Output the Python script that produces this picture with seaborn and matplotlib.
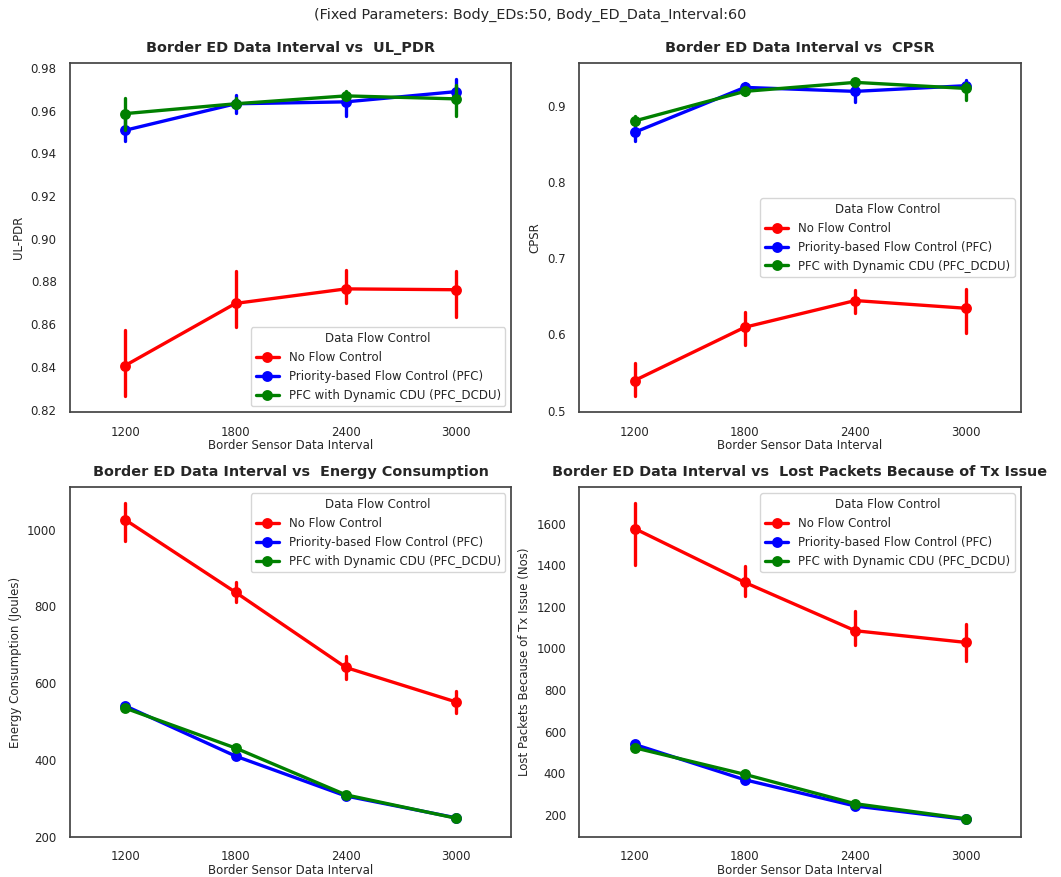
import numpy as np
import pandas as pd
import matplotlib
matplotlib.use("Agg")
import matplotlib.pyplot as plt
import seaborn as sns

# x categories and series
intervals = [1200, 1800, 2400, 3000]
methods = ["No Flow Control", "Priority-based Flow Control (PFC)", "PFC with Dynamic CDU (PFC_DCDU)"]
colors = {"No Flow Control": "red",
          "Priority-based Flow Control (PFC)": "blue",
          "PFC with Dynamic CDU (PFC_DCDU)": "green"}

# UL_PDR: mean, lower and upper end of error bar
pdr_nfc = [0.8406, 0.8697, 0.8765, 0.8761]
pdr_nfc_lo = [0.8261, 0.8588, 0.8698, 0.8635]
pdr_nfc_hi = [0.8574, 0.8850, 0.8854, 0.8850]
pdr_pfc = [0.9508, 0.9632, 0.9641, 0.9689]
pdr_pfc_lo = [0.9457, 0.9590, 0.9577, 0.9630]
pdr_pfc_hi = [0.9560, 0.9675, 0.9670, 0.9748]
pdr_dcdu = [0.9586, 0.9632, 0.9669, 0.9655]
pdr_dcdu_lo = [0.9511, 0.9610, 0.9650, 0.9574]
pdr_dcdu_hi = [0.9660, 0.9660, 0.9690, 0.9722]

# CPSR
cpsr_nfc = [0.5393, 0.6093, 0.6443, 0.6342]
cpsr_nfc_lo = [0.5184, 0.5861, 0.6281, 0.6014]
cpsr_nfc_hi = [0.5625, 0.6293, 0.6587, 0.6596]
cpsr_pfc = [0.8650, 0.9240, 0.9188, 0.9262]
cpsr_pfc_lo = [0.8541, 0.9180, 0.9052, 0.9180]
cpsr_pfc_hi = [0.8740, 0.9300, 0.9280, 0.9340]
cpsr_dcdu = [0.8799, 0.9188, 0.9306, 0.9227]
cpsr_dcdu_lo = [0.8750, 0.9140, 0.9260, 0.9079]
cpsr_dcdu_hi = [0.8860, 0.9230, 0.9350, 0.9300]

# Energy consumption (Joules)
en_nfc = [1026, 837, 641, 551]
en_nfc_lo = [971, 811, 612, 523]
en_nfc_hi = [1069, 865, 671, 579]
en_pfc = [541, 410, 306, 249]
en_pfc_lo = [536, 404, 301, 245]
en_pfc_hi = [546, 416, 311, 253]
en_dcdu = [535, 431, 309, 248]
en_dcdu_lo = [530, 426, 304, 244]
en_dcdu_hi = [540, 436, 314, 252]

# Lost packets because of Tx issue
lp_nfc = [1576, 1317, 1085, 1029]
lp_nfc_lo = [1400, 1253, 1017, 938]
lp_nfc_hi = [1697, 1397, 1181, 1117]
lp_pfc = [539, 369, 243, 179]
lp_pfc_lo = [530, 360, 236, 172]
lp_pfc_hi = [548, 378, 250, 186]
lp_dcdu = [523, 395, 254, 182]
lp_dcdu_lo = [514, 387, 247, 175]
lp_dcdu_hi = [532, 403, 261, 189]


def make_df(col, series):
    # three rows per point: low end, value, high end of the error bar
    rows = []
    for method, (mid, lo, hi) in zip(methods, series):
        for i, x in enumerate(intervals):
            for v in (lo[i], mid[i], hi[i]):
                rows.append({"Border Sensor Data Interval": x,
                             "Data Flow Control": method, col: v})
    return pd.DataFrame(rows)


panels = [
    ("UL-PDR", "UL_PDR", [(pdr_nfc, pdr_nfc_lo, pdr_nfc_hi), (pdr_pfc, pdr_pfc_lo, pdr_pfc_hi),
                          (pdr_dcdu, pdr_dcdu_lo, pdr_dcdu_hi)], "lower right", None),
    ("CPSR", "CPSR", [(cpsr_nfc, cpsr_nfc_lo, cpsr_nfc_hi), (cpsr_pfc, cpsr_pfc_lo, cpsr_pfc_hi),
                      (cpsr_dcdu, cpsr_dcdu_lo, cpsr_dcdu_hi)], "center right", None),
    ("Energy Consumption (Joules)", "Energy Consumption",
     [(en_nfc, en_nfc_lo, en_nfc_hi), (en_pfc, en_pfc_lo, en_pfc_hi),
      (en_dcdu, en_dcdu_lo, en_dcdu_hi)], "upper right", 200),
    ("Lost Packets Because of Tx Issue (Nos)", "Lost Packets Because of Tx Issue",
     [(lp_nfc, lp_nfc_lo, lp_nfc_hi), (lp_pfc, lp_pfc_lo, lp_pfc_hi),
      (lp_dcdu, lp_dcdu_lo, lp_dcdu_hi)], "upper right", None),
]

sns.set_theme(style="white", rc={"axes.edgecolor": "#444444"})
plt.rcParams["font.family"] = ["DejaVu Sans"]

fig, axes = plt.subplots(2, 2, figsize=(10.61, 8.77), dpi=100)
fig.subplots_adjust(left=0.066, right=0.962, top=0.928, bottom=0.046, wspace=0.154, hspace=0.215)

for ax, (ylabel, name, series, loc, ybottom) in zip(axes.flat, panels):
    df = make_df(ylabel, series)
    sns.pointplot(data=df, x="Border Sensor Data Interval", y=ylabel, hue="Data Flow Control",
                  hue_order=methods, palette=colors, estimator="median",
                  errorbar=lambda v: (v.min(), v.max()), linewidth=2.4, ax=ax)
    ax.set_title(f"Border ED Data Interval vs  {name}", fontsize=10.4, fontweight="bold", pad=8)
    ax.set_xlabel("Border Sensor Data Interval", fontsize=8.5, labelpad=0.4)
    ax.set_ylabel(ylabel, fontsize=8.5)
    ax.tick_params(labelsize=8.5, pad=3.6)
    if ybottom is not None:
        ax.set_ylim(bottom=ybottom)
    ax.legend(title="Data Flow Control", loc=loc, fontsize=8.5, title_fontsize=8.5)

fig.suptitle("(Fixed Parameters: Body_EDs:50, Body_ED_Data_Interval:60", fontsize=10.4, y=0.991)
fig.savefig("out.png", dpi=100)
